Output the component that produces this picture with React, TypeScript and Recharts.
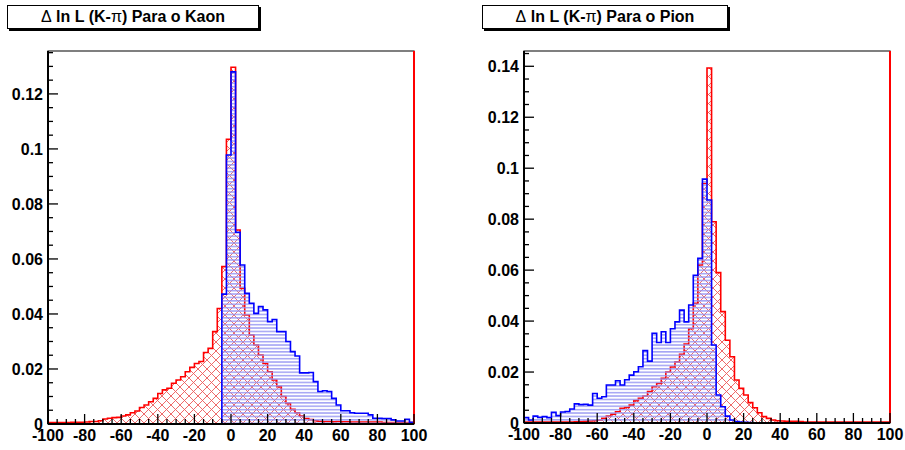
import { ComposedChart, Area, XAxis, YAxis, ReferenceArea, ReferenceLine } from "recharts"

// histogram binning: 80 bins of 2.5 from -100 to 100
const BIN_START = -100
const BIN_WIDTH = 2.5

// "Para o Kaon" panel
const kaonRed = [
  0.0005, 0.0005, 0.0005, 0.0005, 0.0005, 0.0006, 0.0006, 0.0006, 0.0007, 0.0009,
  0.0009, 0.0012, 0.0018, 0.0021, 0.0023, 0.0024, 0.0029, 0.0033, 0.0041, 0.0047,
  0.006, 0.0069, 0.0081, 0.0093, 0.0111, 0.0124, 0.013, 0.0148, 0.016, 0.0172,
  0.019, 0.0206, 0.022, 0.0227, 0.026, 0.0275, 0.0336, 0.042, 0.0572, 0.1035,
  0.1297, 0.0705, 0.0493, 0.0396, 0.0324, 0.0287, 0.0251, 0.022, 0.019, 0.016,
  0.0136, 0.01, 0.0075, 0.0053, 0.0041, 0.0029, 0.002, 0.0016, 0.0012, 0.001,
  0.0009, 0.0009, 0.0008, 0.0009, 0.0008, 0.0008, 0.0007, 0.0007, 0.0007, 0.0007,
  0.0007, 0.0007, 0.0007, 0.0005, 0.0005, 0.0005, 0.0005, 0.0005, 0.0005, 0.0005,
]
const kaonBlue = [
  0, 0, 0, 0, 0, 0, 0, 0, 0, 0,
  0, 0, 0, 0, 0, 0, 0, 0, 0, 0,
  0, 0, 0, 0, 0, 0, 0, 0, 0, 0,
  0, 0, 0, 0, 0, 0, 0, 0, 0.0472, 0.0978,
  0.128, 0.0697, 0.0578, 0.0475, 0.0439, 0.0402, 0.0427, 0.0415, 0.0372, 0.038,
  0.0336, 0.0336, 0.03, 0.0263, 0.0247, 0.0186, 0.0186, 0.0187, 0.0154, 0.0118,
  0.0121, 0.0118, 0.0093, 0.0069, 0.0048, 0.0048, 0.0041, 0.0039, 0.0039, 0.0039,
  0.0033, 0.0021, 0.0021, 0.002, 0.002, 0.0015, 0.0011, 0.0011, 0.0017, 0.0006,
]

// "Para o Pion" panel
const pionRed = [
  0.0004, 0.0004, 0.0004, 0.0004, 0.0004, 0.0004, 0.0004, 0.0004, 0.0004, 0.0004,
  0.0004, 0.0005, 0.0006, 0.0007, 0.0008, 0.0009, 0.0012, 0.0018, 0.0027, 0.0035,
  0.0044, 0.0058, 0.0061, 0.007, 0.0088, 0.0097, 0.0106, 0.0123, 0.0142, 0.0155,
  0.0175, 0.02, 0.022, 0.024, 0.027, 0.031, 0.037, 0.047, 0.062, 0.094,
  0.1393, 0.079, 0.059, 0.0437, 0.0325, 0.026, 0.0169, 0.0136, 0.011, 0.008,
  0.006, 0.004, 0.0025, 0.0018, 0.0012, 0.0009, 0.0008, 0.0007, 0.0007, 0.0007,
  0.0006, 0.0004, 0.0004, 0.0004, 0.0004, 0.0004, 0.0004, 0.0004, 0.0004, 0.0004,
  0.0004, 0.0004, 0.0004, 0.0004, 0.0004, 0.0004, 0.0004, 0.0004, 0.0004, 0.0004,
]
const pionBlue = [
  0.0021, 0.0012, 0.0027, 0.0022, 0.0025, 0.0021, 0.0042, 0.0029, 0.0043, 0.0045,
  0.0055, 0.0075, 0.0072, 0.0073, 0.007, 0.0116, 0.0097, 0.0103, 0.0149, 0.0149,
  0.0166, 0.0149, 0.017, 0.0188, 0.0201, 0.0221, 0.0284, 0.0243, 0.0352, 0.0316,
  0.0358, 0.0316, 0.037, 0.0397, 0.0443, 0.0397, 0.0463, 0.058, 0.0646, 0.0957,
  0.0875, 0.0306, 0.011, 0.0064, 0.0027, 0.0012, 0.0006, 0.0004, 0.0003, 0.0002,
  0.0001, 0.0001, 0, 0, 0, 0, 0, 0, 0, 0,
  0, 0, 0, 0, 0, 0, 0, 0, 0, 0,
  0, 0, 0, 0, 0, 0, 0, 0, 0, 0,
]

const xLabels = [-100, -80, -60, -40, -20, 0, 20, 40, 60, 80, 100]
const kaonYLabels = [0, 0.02, 0.04, 0.06, 0.08, 0.1, 0.12]
const pionYLabels = [0, 0.02, 0.04, 0.06, 0.08, 0.1, 0.12, 0.14]

const FONT = "'Liberation Sans', Arial, Helvetica, sans-serif"

function buildRows(blue: number[], red: number[]) {
  const rows = blue.map((b, i) => ({ x: BIN_START + i * BIN_WIDTH, blue: b, red: red[i] }))
  const n = blue.length
  rows.push({ x: BIN_START + n * BIN_WIDTH, blue: blue[n - 1], red: red[n - 1] })
  return rows
}

function steps(from: number, to: number, step: number) {
  const out: number[] = []
  for (let v = from; v <= to + 1e-9; v += step) out.push(Number(v.toFixed(4)))
  return out
}

const isMajor = (v: number, majors: number[]) => majors.some((m) => Math.abs(m - v) < 1e-7)
const fmt = (v: number) => String(Number(v.toFixed(3)))

function YTick(props: any) {
  const { x, y, payload, majors } = props
  const major = isMajor(payload.value, majors)
  return (
    <g>
      <line x1={x} x2={x + (major ? 10 : 5)} y1={y} y2={y} stroke="#000" strokeWidth={1.3} />
      {major && (
        <text x={x - 5} y={y} dy="0.36em" textAnchor="end" fontFamily={FONT} fontWeight="bold" fontSize={16} fill="#000">
          {fmt(payload.value)}
        </text>
      )}
    </g>
  )
}

function XTick(props: any) {
  const { x, y, payload, majors } = props
  const major = isMajor(payload.value, majors)
  return (
    <g>
      <line x1={x} x2={x} y1={y} y2={y - (major ? 10 : 5)} stroke="#000" strokeWidth={1.3} />
      {major && (
        <text x={x} y={y + 17} textAnchor="middle" fontFamily={FONT} fontWeight="bold" fontSize={16} fill="#000">
          {fmt(payload.value)}
        </text>
      )}
    </g>
  )
}

function Panel(props: {
  blue: number[]
  red: number[]
  yMax: number
  yLabels: number[]
  width: number
  margin: { top: number; right: number; left: number; bottom: number }
  xHeight: number
}) {
  const { blue, red, yMax, yLabels, width, margin, xHeight } = props
  const rows = buildRows(blue, red)
  const yTicks = steps(0, yMax, 0.005)
  const xTicks = steps(-100, 100, 5)
  return (
    <ComposedChart width={width} height={450} data={rows} margin={margin}>
      <XAxis
        dataKey="x"
        type="number"
        domain={[-100, 100]}
        ticks={xTicks}
        interval={0}
        height={xHeight}
        tickSize={0}
        tickMargin={0}
        axisLine={{ stroke: "#000", strokeWidth: 2 }}
        tick={(p: any) => <XTick {...p} majors={xLabels} />}
      />
      <YAxis
        type="number"
        domain={[0, yMax]}
        allowDataOverflow
        ticks={yTicks}
        interval={0}
        width={40}
        tickSize={0}
        tickMargin={0}
        axisLine={{ stroke: "#000", strokeWidth: 2 }}
        tick={(p: any) => <YTick {...p} majors={yLabels} />}
      />
      <ReferenceArea x1={-100} x2={100} y1={0} y2={yMax} fill="none" stroke="#000" strokeWidth={1.2} />
      <Area
        type="stepAfter"
        dataKey="red"
        stroke="#ff0000"
        strokeWidth={1.6}
        fill="url(#hatchRed)"
        fillOpacity={1}
        dot={false}
        activeDot={false}
        isAnimationActive={false}
      />
      <Area
        type="stepAfter"
        dataKey="blue"
        stroke="#0000ff"
        strokeWidth={1.6}
        fill="url(#hatchBlue)"
        fillOpacity={1}
        dot={false}
        activeDot={false}
        isAnimationActive={false}
      />
      <ReferenceLine x={100} stroke="#ff0000" strokeWidth={2} />
    </ComposedChart>
  )
}

function TitleBox({ left, width, name }: { left: number; width: number; name: string }) {
  return (
    <div
      style={{
        position: "absolute",
        left,
        top: 5,
        width,
        height: 24,
        boxSizing: "border-box",
        border: "1px solid #000",
        boxShadow: "2px 2px 0 #000",
        background: "#fff",
        fontFamily: FONT,
        fontWeight: "bold",
        fontSize: 16,
        lineHeight: "22px",
        textAlign: "center",
        whiteSpace: "nowrap",
      }}
    >
      <span style={{ fontWeight: 400 }}>Δ</span> ln L (K-<span style={{ fontWeight: 400 }}>π</span>) Para o {name}
    </div>
  )
}

export default function App() {
  return (
    <div style={{ position: "fixed", left: 0, top: 0, width: 905, height: 450, background: "#fff" }}>
      <svg width={0} height={0} style={{ position: "absolute" }}>
        <defs>
          <pattern id="hatchBlue" patternUnits="userSpaceOnUse" width={8} height={3.4}>
            <rect x={0} y={1} width={8} height={1.3} fill="#9494f2" />
          </pattern>
          <pattern id="hatchRed" patternUnits="userSpaceOnUse" width={9} height={9}>
            <path d="M0,0 L9,9 M9,0 L0,9 M-1,8 L1,10 M8,-1 L10,1" stroke="#ec5a5a" strokeWidth={0.9} />
          </pattern>
        </defs>
      </svg>
      <div style={{ position: "absolute", left: 0, top: 0 }}>
        <Panel
          blue={kaonBlue}
          red={kaonRed}
          yMax={0.1356}
          yLabels={kaonYLabels}
          width={452}
          margin={{ top: 51, right: 38, left: 8, bottom: 0 }}
          xHeight={26}
        />
      </div>
      <div style={{ position: "absolute", left: 452, top: 0 }}>
        <Panel
          blue={pionBlue}
          red={pionRed}
          yMax={0.146}
          yLabels={pionYLabels}
          width={453}
          margin={{ top: 51, right: 15, left: 32, bottom: 0 }}
          xHeight={27}
        />
      </div>
      <TitleBox left={7} width={252} name="Kaon" />
      <TitleBox left={482} width={246} name="Pion" />
    </div>
  )
}
